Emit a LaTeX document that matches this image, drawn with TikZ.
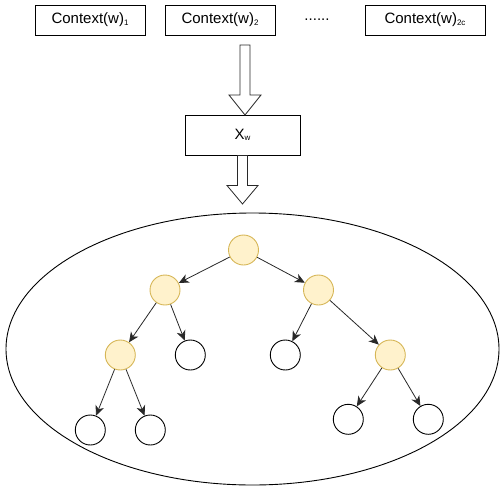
\documentclass[tikz,border=0pt]{standalone}
\usepackage{fontspec}
\setmainfont{Liberation Sans}
\usetikzlibrary{arrows.meta}
\begin{document}
\begin{tikzpicture}[x=1pt,y=-1pt,
  ctx/.style={draw=black,line width=0.9pt,minimum width=110pt,minimum height=30pt,inner sep=0pt,font=\fontsize{15}{15}\selectfont},
  yel/.style={circle,draw={rgb,255:red,214;green,182;blue,86},fill={rgb,255:red,255;green,242;blue,204},line width=0.9pt,minimum size=30pt,inner sep=0pt},
  wht/.style={circle,draw=black,line width=0.9pt,minimum size=30pt,inner sep=0pt},
  edge/.style={draw={rgb,255:red,40;green,40;blue,40},line width=0.8pt,-{Stealth[length=10pt,width=9pt,inset=3pt]}},
  blk/.style={draw={rgb,255:red,40;green,40;blue,40},line width=0.8pt,fill=white}
]
\useasboundingbox (0,0) rectangle (504,491);
\newcommand{\sbs}[1]{\raisebox{-1.5pt}{\fontsize{8}{8}\selectfont #1}}
% top boxes
\node[ctx] (c1) at (90,20) {Context(w)\sbs{1}};
\node[ctx] (c2) at (220,20) {Context(w)\sbs{2}};
\node[font=\fontsize{15}{15}\selectfont] (dots) at (317,20) {......};
\node[ctx,minimum width=120pt] (c3) at (425,20) {Context(w)\sbs{2c}};
% Xw box
\node[ctx,minimum width=115pt,minimum height=40pt] (xw) at (242.5,135) {X\sbs{w}};
% hollow block arrows
\path[blk] (240,45) -- (250,45) -- (250,95) -- (261,95) -- (245,115) -- (229,95) -- (240,95) -- cycle;
\path[blk] (237.5,155.5) -- (247.5,155.5) -- (247.5,185.5) -- (258,185.5) -- (242.5,204) -- (227,185.5) -- (237.5,185.5) -- cycle;
% ellipse
\draw[line width=0.9pt] (252.5,349) ellipse [x radius=246.5, y radius=136];
% tree
\node[yel] (r) at (243.5,250) {};
\node[yel] (l) at (165,290) {};
\node[yel] (rr0) at (318.5,290) {};
\node[yel] (ll) at (120.3,355) {};
\node[wht] (lr) at (190.3,355) {};
\node[wht] (rl) at (285.3,355) {};
\node[yel] (rr) at (390.3,355) {};
\node[wht] (lll) at (90.3,430) {};
\node[wht] (llr) at (150.3,430) {};
\node[wht] (rrl) at (348.3,419.3) {};
\node[wht] (rrr) at (428.3,419.3) {};
\draw[edge] (r) -- (l);
\draw[edge] (r) -- (rr0);
\draw[edge] (l) -- (ll);
\draw[edge] (l) -- (lr);
\draw[edge] (rr0) -- (rl);
\draw[edge] (rr0) -- (rr);
\draw[edge] (ll) -- (lll);
\draw[edge] (ll) -- (llr);
\draw[edge] (rr) -- (rrl);
\draw[edge] (rr) -- (rrr);
\end{tikzpicture}
\end{document}
